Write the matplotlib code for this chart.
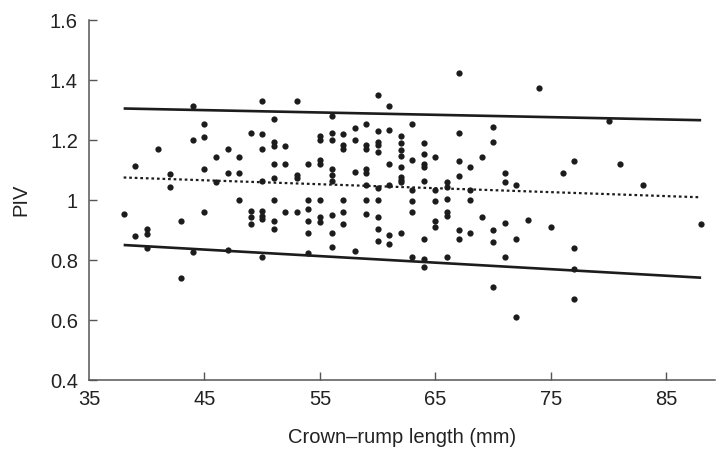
import numpy as np
import matplotlib
matplotlib.use("Agg")
import matplotlib.pyplot as plt

plt.rcParams["font.family"] = ["Liberation Sans", "DejaVu Sans"]

# Crown-rump length (mm) and PIV
crl = (
    [38] + [39] * 2 + [40] * 3 + [41] + [42] * 2 + [43] * 2 + [44] * 3 + [45] * 4
    + [46] * 2 + [47] * 3 + [48] * 3 + [49] * 4 + [50] * 8 + [51] * 8 + [52] * 3
    + [53] * 4 + [54] * 6 + [55] * 7 + [56] * 9 + [57] * 6 + [58] * 4 + [59] * 8
    + [60] * 10 + [61] * 6 + [62] * 9 + [63] * 6 + [64] * 8 + [65] * 5 + [66] * 6
    + [67] * 6 + [68] * 4 + [69] * 2 + [70] * 5 + [71] * 4 + [72] * 3 + [73] + [74]
    + [75] + [76] + [77] * 4 + [80] + [81] + [83] + [88]
)
piv = [
    0.952,
    1.112, 0.881,
    0.903, 0.888, 0.841,
    1.170,
    1.086, 1.042,
    0.930, 0.741,
    1.313, 1.201, 0.828,
    1.253, 1.210, 1.102, 0.961,
    1.143, 1.060,
    1.170, 1.091, 0.832,
    1.143, 1.091, 1.001,
    1.224, 0.964, 0.942, 0.920,
    1.331, 1.221, 1.170, 1.063, 0.963, 0.947, 0.936, 0.811,
    1.271, 1.194, 1.180, 1.120, 1.072, 1.001, 0.931, 0.902,
    1.179, 1.120, 0.961,
    1.331, 1.083, 1.073, 0.961,
    1.120, 1.001, 0.970, 0.931, 0.890, 0.824,
    1.213, 1.200, 1.134, 1.120, 1.001, 0.942, 0.928,
    1.281, 1.224, 1.201, 1.103, 1.082, 1.064, 0.950, 0.890, 0.842,
    1.221, 1.182, 1.169, 1.001, 0.961, 0.920,
    1.240, 1.201, 1.093, 0.831,
    1.253, 1.182, 1.169, 1.103, 1.089, 1.050, 1.001, 0.952,
    1.351, 1.231, 1.194, 1.182, 1.161, 1.041, 1.001, 0.942, 0.902, 0.862,
    1.312, 1.232, 1.121, 1.050, 0.883, 0.852,
    1.212, 1.191, 1.166, 1.147, 1.111, 1.076, 1.067, 1.060, 0.890,
    1.253, 1.134, 1.033, 0.998, 0.961, 0.810,
    1.191, 1.152, 1.121, 1.109, 1.064, 0.871, 0.803, 0.778,
    1.143, 1.033, 0.998, 0.931, 0.911,
    1.061, 1.044, 1.002, 0.961, 0.948, 0.811,
    1.423, 1.223, 1.130, 1.080, 0.899, 0.871,
    1.111, 1.033, 1.001, 0.890,
    1.143, 0.942,
    1.243, 1.192, 0.901, 0.861, 0.711,
    1.091, 1.059, 0.923, 0.810,
    1.050, 0.871, 0.611,
    0.932,
    1.372,
    0.909,
    1.091,
    1.130, 0.840, 0.771, 0.669,
    1.263,
    1.121,
    1.051,
    0.920,
]

# Reference lines (mean and limits) at the ends of the data range
fit_x = [38, 88]
mean_line = [1.075, 1.009]
upper_line = [1.305, 1.266]
lower_line = [0.850, 0.741]

xticks = [45, 55, 65, 75, 85]
xtick_labels = ["45", "55", "65", "75", "85"]
yticks = [0.4, 0.6, 0.8, 1.0, 1.2, 1.4, 1.6]
ytick_labels = ["0.4", "0.6", "0.8", "1", "1.2", "1.4", "1.6"]

fs = 14.5
txt = "#222222"

fig = plt.figure(figsize=(7.16, 4.58), dpi=100)
ax = fig.add_axes([89 / 716, 78 / 458, 626 / 716, 360 / 458])

ink = "#1c1c1c"
ax.plot(crl, piv, "o", color=ink, markersize=4.5, markeredgewidth=0, zorder=3)
ax.plot(fit_x, upper_line, color=ink, linewidth=1.9, solid_capstyle="butt")
ax.plot(fit_x, lower_line, color=ink, linewidth=1.9, solid_capstyle="butt")
ax.plot(fit_x, mean_line, color=ink, linewidth=1.6, linestyle=(0, (1.2, 1.3)))

ax.set_xlim(35, 89.2)
ax.set_ylim(0.4, 1.6)

ax.set_xticks(xticks)
ax.set_xticklabels(xtick_labels)
ax.set_yticks(yticks)
ax.set_yticklabels(ytick_labels)
# 35 label sits at the corner without a tick
ax.text(35, -0.027, "35", transform=ax.get_xaxis_transform(), ha="center", va="top",
        fontsize=fs, color=txt)

for side in ["top", "right"]:
    ax.spines[side].set_visible(False)
for side in ["left", "bottom"]:
    ax.spines[side].set_color("#555555")
    ax.spines[side].set_linewidth(1.1)

ax.tick_params(direction="in", length=6, width=1.0, color="#555555",
               labelsize=fs, labelcolor=txt)
ax.tick_params(axis="y", pad=8)
ax.tick_params(axis="x", pad=7)

ax.set_xlabel("Crown\u2013rump length (mm)", fontsize=fs, color=txt, labelpad=14)
ax.set_ylabel("PIV", fontsize=fs, color=txt, labelpad=14)

fig.savefig("out.png", dpi=100)
